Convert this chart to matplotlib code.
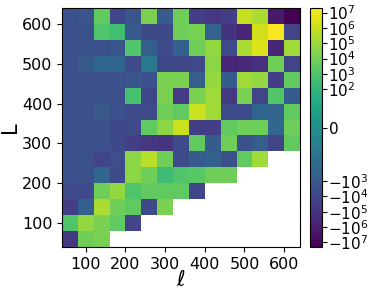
import numpy as np
import matplotlib
matplotlib.use("Agg")
import matplotlib.pyplot as plt
from matplotlib.colors import SymLogNorm

# bin centres (ell along x, L along y)
ell_centers = [60, 100, 140, 180, 220, 260, 300, 340, 380, 420, 460, 500, 540, 580, 620]
L_centers = [60, 100, 140, 180, 220, 260, 300, 340, 380, 420, 460, 500, 540, 580, 620]

nan = np.nan
# rows listed from top (L=620) to bottom (L=60), nan = empty cell
rows_top_down = [
    [-3e3, -1.5e3, 3e3, -1e4, -1.5e3, 1.5e4, -800, 7e3, -3e4, -7e4, -3e4, 8e5, 2e5, -2e6, -2e7],
    [-2.5e3, -2.5e3, 1e3, 400, -800, -7e3, -7e3, 7e3, 1.2e4, -300, -1e5, -5e5, 1.5e6, 1.5e7, -1.5e4],
    [-2.5e3, -2.5e3, -2.5e3, -1.5e3, 1e3, -500, -6e3, -400, 7e3, 6e4, -6e3, 2e5, 3e6, -4e5, 1.2e5],
    [-2.5e3, -1e3, -150, -150, -6e3, -10, -8e3, -8e3, -6e3, 4e4, -5e5, -3e5, -1.5e5, 7e3, -1.5e4],
    [-2.5e3, -2.5e3, -3e3, -2.5e3, -1.5e3, -2.5e3, 1.5e4, 1.5e4, -500, 6e4, -700, 1.2e5, 6e4, -3e4, 3e3],
    [-2.5e3, -2.5e3, -3e3, -4e3, 600, -1e4, 1.5e4, -4e4, 1.5e4, 1.2e5, -6e4, 1.5e4, -1.5e4, 1.2e3, -700],
    [-2.5e3, -2.5e3, -1e3, -2.5e3, -6e3, -6e3, 7e3, 3e3, 1.2e6, 1.2e5, -6e3, -6e3, -150, -300, 3e3],
    [-2.5e3, -2.5e3, -3e3, -7e3, -6e3, 3e3, 4e4, 1.2e6, -3e4, -3e4, 3e3, 7e3, 7e3, -150, 7e3],
    [-2.5e3, -2.5e3, -3e3, -7e3, -3e4, -7e4, -9e4, -6e3, 3e3, -700, 7e3, -2.5e3, -500, -1.5e4, 3e3],
    [-2.5e3, -2.5e3, -1.5e4, -4e3, 4e4, 4e5, 7e3, -6e3, -800, -400, -2.5e3, 3e3, 1.2e5, nan, nan],
    [-2.5e3, -3e3, -150, -6e3, 4e4, 7e3, 300, 1e3, 1.8e3, 7e3, 7e3, nan, nan, nan, nan],
    [-6e3, -6e3, 7e3, 6e4, 1e3, 3e3, 3e3, 3e3, -1e4, nan, nan, nan, nan, nan, nan],
    [-3e4, -400, 2e5, 7e3, 3e3, -8e3, 1.5e4, nan, nan, nan, nan, nan, nan, nan, nan],
    [1e3, 6e4, 1.5e4, 3e3, -1.5e4, nan, nan, nan, nan, nan, nan, nan, nan, nan, nan],
    [-6e4, 7e3, 1.5e4, nan, nan, nan, nan, nan, nan, nan, nan, nan, nan, nan, nan],
]

cbar_ticks = [1e7, 1e6, 1e5, 1e4, 1e3, 1e2, 0, -1e3, -1e4, -1e5, -1e6, -1e7]
cbar_labels = [r'$10^{7}$', r'$10^{6}$', r'$10^{5}$', r'$10^{4}$', r'$10^{3}$', r'$10^{2}$', r'$0$',
               r'$-10^{3}$', r'$-10^{4}$', r'$-10^{5}$', r'$-10^{6}$', r'$-10^{7}$']

Z = np.ma.masked_invalid(np.array(rows_top_down[::-1]))

def edges(c):
    c = np.asarray(c, float)
    h = (c[1] - c[0]) / 2
    return np.append(c - h, c[-1] + h)

fig = plt.figure(figsize=(3.74, 2.89), dpi=100)
ax = fig.add_axes([62/374, 42/289, 238/374, 239/289])
cax = fig.add_axes([310/374, 42/289, 12/374, 239/289])

norm = SymLogNorm(linthresh=4, linscale=1, vmin=-2e7, vmax=2e7, base=10)
mesh = ax.pcolormesh(edges(ell_centers), edges(L_centers), Z, cmap='viridis', norm=norm)

ax.set_xlim(40, 640)
ax.set_ylim(40, 640)
ax.set_xticks([100, 200, 300, 400, 500, 600])
ax.set_yticks([100, 200, 300, 400, 500, 600])
ax.tick_params(labelsize=11.5)
ax.set_xlabel(r'$\ell$', fontsize=15, labelpad=-1)
ax.set_ylabel('L', fontsize=15, labelpad=1)

cb = fig.colorbar(mesh, cax=cax)
cb.set_ticks(cbar_ticks)
cb.set_ticklabels(cbar_labels)
cb.minorticks_off()
cb.ax.tick_params(labelsize=11, pad=1)

fig.savefig('out.png', dpi=100)
